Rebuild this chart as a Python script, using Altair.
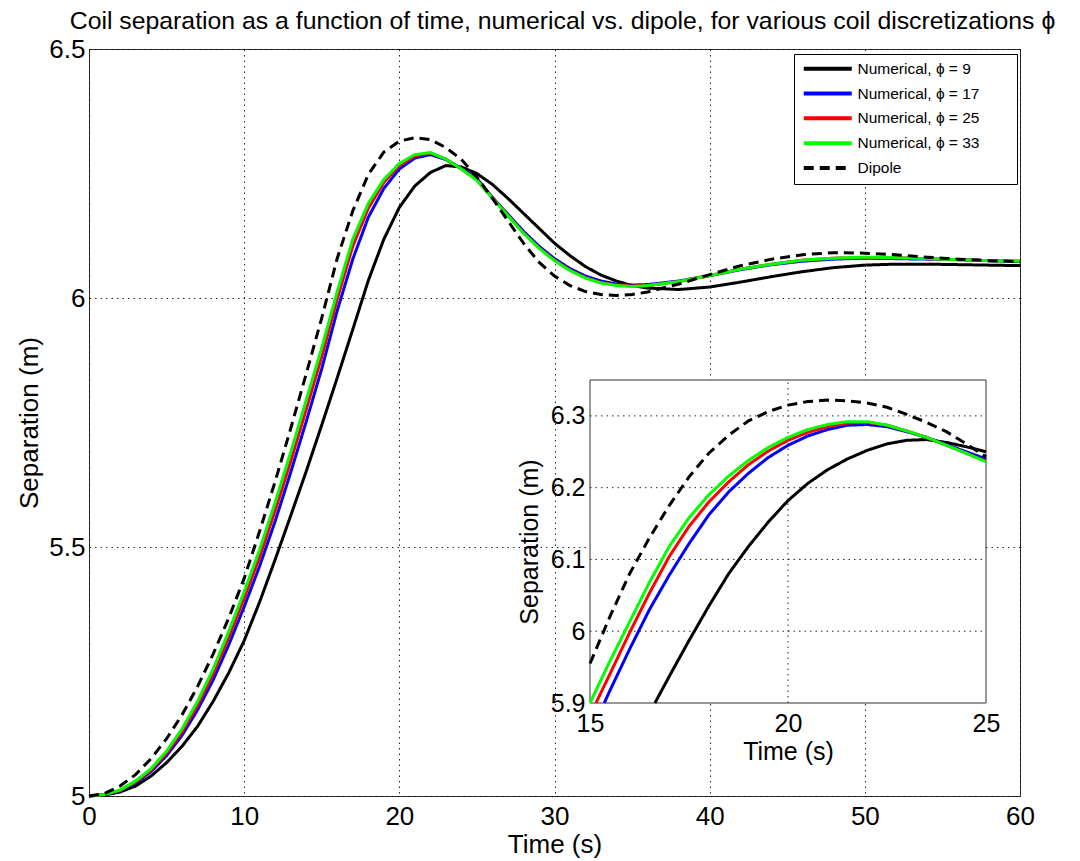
import altair as alt
import pandas as pd

FONT = "Liberation Sans"

series_names = ["Numerical, ϕ = 9", "Numerical, ϕ = 17", "Numerical, ϕ = 25",
                "Numerical, ϕ = 33", "Dipole"]
series_colors = ["#000000", "#0000ff", "#ff0000", "#00ff00", "#000000"]
series_dashes = [[1, 0], [1, 0], [1, 0], [1, 0], [10, 6]]

# ---- main panel data (time in s, separation in m) ----
t_main = [0, 1, 2, 3, 4, 5, 6, 7, 8, 9, 10, 11, 12, 13, 14, 15, 16, 17, 18, 19, 20,
          21, 22, 23, 24, 25, 26, 27, 28, 29, 30, 31, 32, 33, 34, 35, 36, 38, 40, 42,
          44, 46, 48, 50, 52, 54, 56, 58, 60]
sep_phi9 = [5.000, 5.002, 5.008, 5.020, 5.040, 5.067, 5.100, 5.140, 5.190, 5.247, 5.312,
            5.390, 5.475, 5.563, 5.652, 5.745, 5.840, 5.937, 6.035, 6.118, 6.182, 6.225,
            6.252, 6.266, 6.263, 6.250, 6.228, 6.200, 6.170, 6.140, 6.110, 6.085, 6.063,
            6.046, 6.034, 6.025, 6.020, 6.017, 6.022, 6.032, 6.043, 6.053, 6.061, 6.066,
            6.068, 6.068, 6.067, 6.066, 6.065]
sep_phi17 = [5.000, 5.003, 5.010, 5.026, 5.049, 5.081, 5.122, 5.173, 5.233, 5.303, 5.380,
             5.462, 5.552, 5.650, 5.752, 5.858, 5.975, 6.078, 6.162, 6.220, 6.259, 6.281,
             6.288, 6.278, 6.260, 6.240, 6.202, 6.168, 6.134, 6.104, 6.079, 6.059, 6.044,
             6.034, 6.028, 6.026, 6.027, 6.034, 6.045, 6.057, 6.067, 6.074, 6.078, 6.080,
             6.079, 6.078, 6.077, 6.075, 6.073]
sep_phi25 = [5.000, 5.003, 5.011, 5.028, 5.052, 5.086, 5.129, 5.182, 5.245, 5.318, 5.397,
             5.480, 5.573, 5.672, 5.776, 5.882, 5.998, 6.104, 6.180, 6.232, 6.266, 6.285,
             6.291, 6.279, 6.259, 6.237, 6.201, 6.166, 6.131, 6.101, 6.076, 6.056, 6.041,
             6.031, 6.026, 6.024, 6.025, 6.033, 6.045, 6.058, 6.068, 6.076, 6.080, 6.081,
             6.081, 6.079, 6.077, 6.075, 6.074]
sep_phi33 = [5.000, 5.003, 5.012, 5.030, 5.055, 5.090, 5.135, 5.190, 5.255, 5.330, 5.410,
             5.495, 5.590, 5.690, 5.795, 5.900, 6.013, 6.118, 6.190, 6.238, 6.270, 6.288,
             6.292, 6.279, 6.259, 6.236, 6.200, 6.165, 6.130, 6.100, 6.075, 6.055, 6.040,
             6.030, 6.025, 6.023, 6.025, 6.033, 6.045, 6.058, 6.068, 6.076, 6.080, 6.082,
             6.081, 6.079, 6.077, 6.075, 6.074]
sep_dipole = [5.000, 5.005, 5.020, 5.043, 5.075, 5.115, 5.163, 5.220, 5.285, 5.357, 5.437,
              5.532, 5.632, 5.738, 5.848, 5.960, 6.080, 6.175, 6.248, 6.293, 6.315, 6.322,
              6.318, 6.302, 6.278, 6.243, 6.200, 6.155, 6.110, 6.072, 6.044, 6.025, 6.013,
              6.007, 6.005, 6.007, 6.012, 6.028, 6.047, 6.065, 6.078, 6.087, 6.091, 6.090,
              6.087, 6.082, 6.078, 6.075, 6.073]

# ---- inset data (zoom 15..25 s) ----
t_in_phi9 = [16.64, 17, 17.5, 18, 18.5, 19, 19.5, 20, 20.5, 21, 21.5, 22, 22.5, 23, 23.5, 24, 24.5, 25]
in_phi9 = [5.900, 5.937, 5.987, 6.035, 6.080, 6.118, 6.152, 6.182, 6.206, 6.225, 6.240,
           6.252, 6.261, 6.266, 6.267, 6.263, 6.257, 6.250]
t_in_phi17 = [15.36, 15.5, 16, 16.5, 17, 17.5, 18, 18.5, 19, 19.5, 20, 20.5, 21, 21.5, 22, 22.5, 23, 23.5, 24, 24.5, 25]
in_phi17 = [5.900, 5.917, 5.975, 6.030, 6.078, 6.122, 6.162, 6.194, 6.220, 6.242, 6.259,
            6.272, 6.281, 6.287, 6.288, 6.285, 6.278, 6.270, 6.260, 6.250, 6.240]
t_in_phi25 = [15.15, 15.5, 16, 16.5, 17, 17.5, 18, 18.5, 19, 19.5, 20, 20.5, 21, 21.5, 22, 22.5, 23, 23.5, 24, 24.5, 25]
in_phi25 = [5.900, 5.940, 5.998, 6.053, 6.104, 6.146, 6.180, 6.208, 6.232, 6.251, 6.266,
            6.277, 6.285, 6.290, 6.291, 6.287, 6.279, 6.270, 6.259, 6.248, 6.237]
t_in_phi33 = [15.0, 15.5, 16, 16.5, 17, 17.5, 18, 18.5, 19, 19.5, 20, 20.5, 21, 21.5, 22, 22.5, 23, 23.5, 24, 24.5, 25]
in_phi33 = [5.900, 5.958, 6.013, 6.068, 6.118, 6.158, 6.190, 6.216, 6.238, 6.256, 6.270,
            6.281, 6.288, 6.292, 6.292, 6.287, 6.279, 6.270, 6.259, 6.248, 6.236]
t_in_dipole = [15.0, 15.5, 16, 16.5, 17, 17.5, 18, 18.5, 19, 19.5, 20, 20.5, 21, 21.5, 22, 22.5, 23, 23.5, 24, 24.5, 25]
in_dipole = [5.955, 6.020, 6.080, 6.130, 6.175, 6.215, 6.248, 6.273, 6.293, 6.306, 6.315,
             6.320, 6.322, 6.321, 6.318, 6.312, 6.302, 6.291, 6.278, 6.261, 6.243]

main_x_ticks = [0, 10, 20, 30, 40, 50, 60]
main_y_ticks = [5, 5.5, 6, 6.5]
inset_x_domain = [15, 25]
inset_y_domain = [5.9, 6.35]
inset_x_ticks = [15, 20, 25]
inset_y_ticks = [5.9, 6.0, 6.1, 6.2, 6.3]

title_text = "Coil separation as a function of time, numerical vs. dipole, for various coil discretizations ϕ"

# ---- tables ----
main_rows = []
for name, vals in zip(series_names, [sep_phi9, sep_phi17, sep_phi25, sep_phi33, sep_dipole]):
    for t, v in zip(t_main, vals):
        main_rows.append({"series": name, "t": t, "sep": v})
df_main = pd.DataFrame(main_rows)

in_rows = []
for name, ts, vals in zip(series_names,
                          [t_in_phi9, t_in_phi17, t_in_phi25, t_in_phi33, t_in_dipole],
                          [in_phi9, in_phi17, in_phi25, in_phi33, in_dipole]):
    for t, v in zip(ts, vals):
        in_rows.append({"series": name, "t": t, "sep": v})
df_in = pd.DataFrame(in_rows)

# ---- geometry (pixels inside the main plot area) ----
W, H = 931, 747
IN_X_RANGE = [501, 897]
IN_Y_RANGE = [654, 331]

legend = alt.Legend(
    title=None, orient="none", legendX=705, legendY=5,
    symbolType="M-6,0H6", symbolSize=64, symbolStrokeWidth=4,
    symbolOffset=19, labelOffset=22, labelFontSize=15.5, labelFont=FONT,
    labelColor="black", labelLimit=400, rowPadding=6.8, padding=7,
    strokeColor="black", fillColor="white",
    labelExpr="datum.label + '\u00a0\u00a0\u00a0\u00a0\u00a0\u00a0\u00a0\u200b'",
)
color_enc = alt.Color("series:N", scale=alt.Scale(domain=series_names, range=series_colors),
                      legend=legend)
dash_enc = alt.StrokeDash("series:N", scale=alt.Scale(domain=series_names, range=series_dashes),
                          legend=legend)

common_axis = dict(labelFont=FONT, labelColor="black", titleFont=FONT, titleColor="black",
                   titleFontWeight="normal", tickSize=0, ticks=False, labelFlush=False)

main_x_axis = alt.Axis(values=main_x_ticks, grid=True, gridDash=[1.5, 4], gridColor="black",
                       gridOpacity=0.85, domain=False, labelFontSize=26, labelPadding=7,
                       title="Time (s)", titleFontSize=26, titlePadding=2, **common_axis)
main_y_axis = alt.Axis(values=main_y_ticks, grid=True, gridDash=[1.5, 4], gridColor="black",
                       gridOpacity=0.85, domain=False, labelFontSize=26, labelPadding=4,
                       format="~g", title="Separation (m)", titleFontSize=26, titlePadding=6,
                       **common_axis)

main = alt.Chart(df_main).mark_line(strokeWidth=3).encode(
    x=alt.X("t:Q", scale=alt.Scale(domain=[0, 60], nice=False), axis=main_x_axis),
    y=alt.Y("sep:Q", scale=alt.Scale(domain=[5, 6.5], nice=False, zero=False), axis=main_y_axis),
    color=color_enc,
    strokeDash=dash_enc,
)

in_x_axis = alt.Axis(values=inset_x_ticks, grid=False, domain=False, orient="bottom",
                     offset=-(H - IN_Y_RANGE[0]), labelFontSize=25, labelPadding=8,
                     title="Time (s)", titleFontSize=25, titlePadding=3, zindex=1,
                     **common_axis)
in_y_axis = alt.Axis(values=inset_y_ticks, grid=False, domain=False, orient="left",
                     offset=-IN_X_RANGE[0], labelFontSize=25, labelPadding=5, format="~g",
                     title="Separation (m)", titleFontSize=25, titlePadding=8, zindex=1,
                     **common_axis)
in_x_scale = alt.Scale(domain=inset_x_domain, range=IN_X_RANGE, nice=False)
in_y_scale = alt.Scale(domain=inset_y_domain, range=IN_Y_RANGE, nice=False, zero=False)

df_box = pd.DataFrame({"t": [inset_x_domain[0]], "t2": [inset_x_domain[1]],
                       "sep": [inset_y_domain[0]], "sep2": [inset_y_domain[1]]})
box = alt.Chart(df_box).mark_rect(fill="white", stroke="#333333", strokeWidth=1).encode(
    x=alt.X("t:Q", scale=in_x_scale, axis=in_x_axis), x2="t2:Q",
    y=alt.Y("sep:Q", scale=in_y_scale, axis=in_y_axis), y2="sep2:Q",
)

vgrid_vals = [v for v in inset_x_ticks if inset_x_domain[0] < v < inset_x_domain[1]]
hgrid_vals = [v for v in inset_y_ticks if inset_y_domain[0] < v < inset_y_domain[1]]
df_vgrid = pd.DataFrame({"t": vgrid_vals, "sep": [inset_y_domain[0]] * len(vgrid_vals),
                         "sep2": [inset_y_domain[1]] * len(vgrid_vals)})
df_hgrid = pd.DataFrame({"sep": hgrid_vals, "t": [inset_x_domain[0]] * len(hgrid_vals),
                         "t2": [inset_x_domain[1]] * len(hgrid_vals)})
vgrid = alt.Chart(df_vgrid).mark_rule(color="black", strokeDash=[1.5, 4], opacity=0.85).encode(
    x=alt.X("t:Q", scale=in_x_scale, axis=in_x_axis),
    y=alt.Y("sep:Q", scale=in_y_scale, axis=in_y_axis), y2="sep2:Q",
)
hgrid = alt.Chart(df_hgrid).mark_rule(color="black", strokeDash=[1.5, 4], opacity=0.85).encode(
    x=alt.X("t:Q", scale=in_x_scale, axis=in_x_axis), x2="t2:Q",
    y=alt.Y("sep:Q", scale=in_y_scale, axis=in_y_axis),
)
in_lines = alt.Chart(df_in).mark_line(strokeWidth=3).encode(
    x=alt.X("t:Q", scale=in_x_scale, axis=in_x_axis),
    y=alt.Y("sep:Q", scale=in_y_scale, axis=in_y_axis),
    color=color_enc,
    strokeDash=dash_enc,
)
inset = alt.layer(box, vgrid, hgrid, in_lines)

chart = alt.layer(main, inset).resolve_scale(
    x="independent", y="independent"
).properties(
    width=W, height=H,
    autosize=alt.AutoSizeParams(type="none"),
    padding={"left": 89, "top": 49, "right": 60, "bottom": 65},
    title=alt.TitleParams(text=title_text, font=FONT, fontSize=24.8, fontWeight="normal",
                          color="black", anchor="middle", frame="group",
                          baseline="alphabetic", offset=18, dx=8, dy=36),
).configure_view(stroke="#333333", strokeWidth=1)

chart.save("out.html", embed_options={"renderer": "svg", "actions": False})
